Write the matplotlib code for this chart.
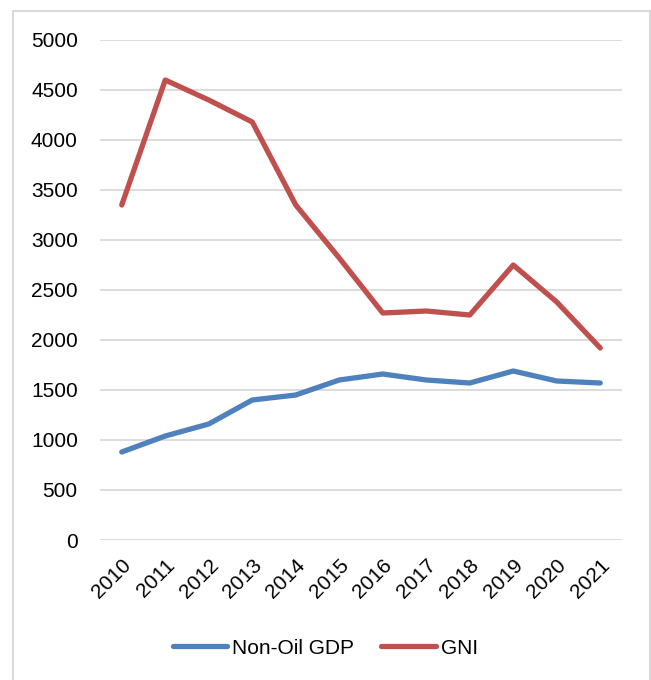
import matplotlib.pyplot as plt
from matplotlib.patches import Rectangle

plt.rcParams['font.family'] = ['Liberation Sans', 'DejaVu Sans']

# 数据
years = ['2010', '2011', '2012', '2013', '2014', '2015',
         '2016', '2017', '2018', '2019', '2020', '2021']
non_oil_gdp = [880, 1040, 1160, 1400, 1450, 1600, 1660, 1600, 1570, 1690, 1590, 1570]
gni = [3350, 4600, 4400, 4180, 3350, 2820, 2270, 2290, 2250, 2750, 2380, 1920]

fig = plt.figure(figsize=(6.51, 6.8), dpi=100)
ax = fig.add_axes([100 / 651, 1 - 540 / 680, 522 / 651, 500 / 680])

x = list(range(len(years)))
ax.plot(x, non_oil_gdp, color='#4F81BD', linewidth=3.8, solid_capstyle='round',
        solid_joinstyle='round', label='Non-Oil GDP')
ax.plot(x, gni, color='#C0504D', linewidth=3.8, solid_capstyle='round',
        solid_joinstyle='round', label='GNI')

ax.set_xlim(-0.5, len(years) - 0.5)
ax.set_ylim(0, 5000)
ax.set_yticks(range(0, 5001, 500))
ax.set_xticks(x)
ax.set_xticklabels(years, rotation=45, ha='right', va='top', rotation_mode='anchor')
ax.tick_params(axis='both', length=0, labelsize=15, colors='black')
ax.tick_params(axis='y', pad=16)
ax.tick_params(axis='x', pad=11)

ax.grid(axis='y', color='#D9D9D9', linewidth=1.3)
ax.set_axisbelow(True)
for s in ax.spines.values():
    s.set_visible(False)

fig.legend(loc='center', bbox_to_anchor=(0.5, 1 - 648 / 680), ncol=2, frameon=False,
           fontsize=15, handlelength=2.6, handletextpad=0.25, columnspacing=1.3)

# 外框
fig.patches.append(Rectangle((13 / 651, -0.05), 637 / 651, 1.05 - 11 / 680, transform=fig.transFigure,
                             fill=False, edgecolor='#D9D9D9', linewidth=1.5))

fig.savefig('out.png', dpi=100)
